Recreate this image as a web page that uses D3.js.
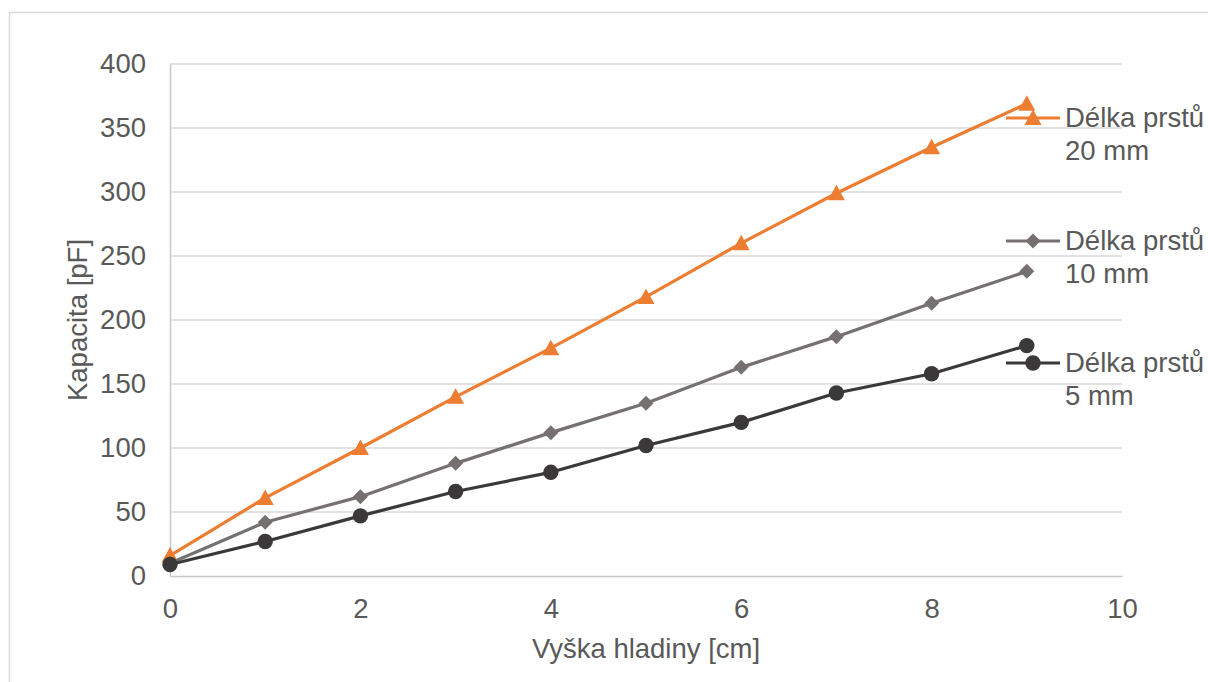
<!DOCTYPE html>
<html>
<head>
<meta charset="utf-8">
<script src="https://cdn.jsdelivr.net/npm/d3@7"></script>
<style>
  html, body { margin: 0; padding: 0; background: #fff; }
  svg { display: block; font-family: "Liberation Sans", Arial, sans-serif; }
</style>
</head>
<body>
<svg id="chart" width="1208" height="682"></svg>
<script>
// Water level [cm]
const heights = [0, 1, 2, 3, 4, 5, 6, 7, 8, 9];
// Capacitance [pF] for each finger length
const cap20mm = [16, 61, 100, 140, 178, 218, 260, 299, 335, 369];
const cap10mm = [10, 42, 62, 88, 112, 135, 163, 187, 213, 238];
const cap5mm  = [9, 27, 47, 66, 81, 102, 120, 143, 158, 180];
const seriesNames = ["Délka prstů 20 mm", "Délka prstů 10 mm", "Délka prstů 5 mm"];
const xTicks = [0, 2, 4, 6, 8, 10];
const yTicks = [0, 50, 100, 150, 200, 250, 300, 350, 400];

const series = [
  { name: seriesNames[0], values: cap20mm, color: "#ED7D31", marker: "triangle" },
  { name: seriesNames[1], values: cap10mm, color: "#767171", marker: "diamond" },
  { name: seriesNames[2], values: cap5mm,  color: "#3A3838", marker: "circle" }
];

const svg = d3.select("#chart");
const textColor = "#595959";
const fontSize = 27.5;

// chart frame
svg.append("rect")
  .attr("x", 9.5).attr("y", 12.5)
  .attr("width", 1300).attr("height", 800)
  .attr("fill", "none").attr("stroke", "#d9d9d9").attr("stroke-width", 1.5);

const plot = { left: 170, right: 1122, top: 64, bottom: 576 };
const x = d3.scaleLinear().domain([0, 10]).range([plot.left, plot.right]);
const y = d3.scaleLinear().domain([0, 400]).range([plot.bottom, plot.top]);

// horizontal gridlines
svg.append("g").selectAll("line")
  .data(yTicks.filter(d => d > 0))
  .join("line")
  .attr("x1", plot.left).attr("x2", plot.right)
  .attr("y1", d => y(d)).attr("y2", d => y(d))
  .attr("stroke", "#d9d9d9").attr("stroke-width", 1.5);

// axes
const yAxis = d3.axisLeft(y).tickValues(yTicks).tickSize(0).tickPadding(24);
const gy = svg.append("g").attr("transform", `translate(${plot.left},0)`).call(yAxis);
gy.select(".domain").attr("stroke", "#c8c8c8").attr("stroke-width", 1.5);
gy.selectAll("text").attr("fill", textColor).style("font-size", fontSize + "px")
  .style("font-family", '"Liberation Sans", Arial, sans-serif');

const xAxis = d3.axisBottom(x).tickValues(xTicks).tickSize(0).tickPadding(22);
const gx = svg.append("g").attr("transform", `translate(0,${plot.bottom})`).call(xAxis);
gx.select(".domain").attr("stroke", "#c8c8c8").attr("stroke-width", 1.5);
gx.selectAll("text").attr("fill", textColor).style("font-size", fontSize + "px")
  .style("font-family", '"Liberation Sans", Arial, sans-serif');

// axis titles
svg.append("text")
  .attr("x", (plot.left + plot.right) / 2).attr("y", 658)
  .attr("text-anchor", "middle").attr("fill", textColor)
  .style("font-size", fontSize + "px")
  .text("Vyška hladiny [cm]");

svg.append("text")
  .attr("transform", `translate(87,${(plot.top + plot.bottom) / 2}) rotate(-90)`)
  .attr("text-anchor", "middle").attr("fill", textColor)
  .style("font-size", fontSize + "px")
  .text("Kapacita [pF]");

// marker shapes centred on the data point
function markerPath(type) {
  if (type === "triangle") return "M0,-8.5L8.5,7L-8.5,7Z";
  if (type === "diamond") return "M0,-7.5L7.5,0L0,7.5L-7.5,0Z";
  return d3.symbol(d3.symbolCircle, Math.PI * 7.7 * 7.7)();
}

const line = d3.line().x((d, i) => x(heights[i])).y(d => y(d));

series.forEach(s => {
  svg.append("path")
    .datum(s.values)
    .attr("d", line)
    .attr("fill", "none")
    .attr("stroke", s.color)
    .attr("stroke-width", 3.2)
    .attr("stroke-linejoin", "round");
  svg.append("g").selectAll("path")
    .data(s.values)
    .join("path")
    .attr("transform", (d, i) => `translate(${x(heights[i])},${y(d)})`)
    .attr("d", markerPath(s.marker))
    .attr("fill", s.color);
});

// legend
const legendRows = [118, 241, 363];
series.forEach((s, i) => {
  const g = svg.append("g").attr("transform", `translate(1006,${legendRows[i]})`);
  g.append("line").attr("x1", 0).attr("x2", 54).attr("y1", 0).attr("y2", 0)
    .attr("stroke", s.color).attr("stroke-width", 3.2);
  g.append("path").attr("transform", "translate(27,0)")
    .attr("d", markerPath(s.marker)).attr("fill", s.color);
  const words = s.name.split(" ");
  const t = g.append("text").attr("x", 59).attr("y", 9)
    .attr("fill", textColor).style("font-size", fontSize + "px");
  t.append("tspan").attr("x", 59).attr("dy", 0).text(words.slice(0, 2).join(" "));
  t.append("tspan").attr("x", 59).attr("dy", 33).text(words.slice(2).join(" "));
});
</script>
</body>
</html>
